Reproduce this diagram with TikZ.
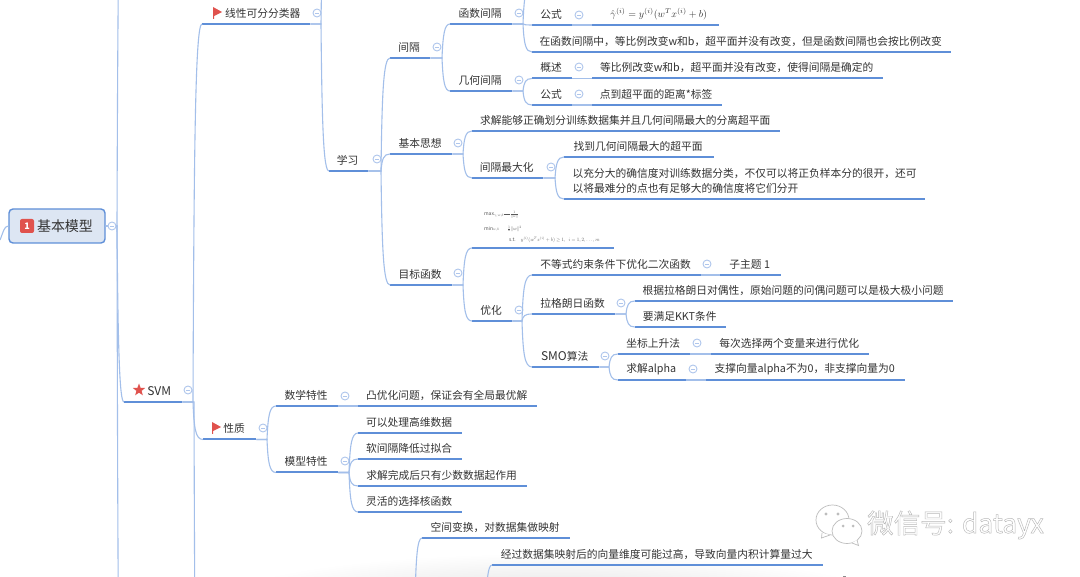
\documentclass[tikz,border=0pt]{standalone}
\usepackage{fontspec}
\setmainfont{Noto Sans CJK SC}
\usetikzlibrary{calc,shapes.geometric}
\definecolor{ulinec}{HTML}{5F8FD8}
\definecolor{connc}{HTML}{A3BFEA}
\definecolor{foldc}{HTML}{AFC6EC}
\definecolor{txtc}{HTML}{333333}
\definecolor{redc}{HTML}{E0524D}
\definecolor{rootf}{HTML}{DDE6F3}
\definecolor{wmc}{HTML}{BDBDBD}
\tikzset{
  topicbox/.style={inner sep=0pt,text=txtc,align=left,anchor=south west,font=\fontsize{10.75}{15}\selectfont},
  uline/.style={draw=ulinec,line width=2pt},
  conn/.style={draw=connc,line width=1.1pt},
  fold/.style={circle,draw=foldc,line width=0.9pt,fill=white,minimum size=8pt,inner sep=0pt,
    path picture={\draw[foldc,line width=0.9pt] ([xshift=-2.2pt]path picture bounding box.center)--([xshift=2.2pt]path picture bounding box.center);}},
  flagmark/.style={fill=redc,draw=none},
  wmline/.style={draw=wmc,line width=0.7pt,fill=white},
  tinymath/.style={inner sep=0pt,text=black!65,scale=0.5,anchor=west},
}
\newcommand\topic[6][21]{%
  \node[topicbox,minimum height=#1pt,minimum width={(#4-#3)*1pt}] (#2) at (#3,#5) {#6\kern2pt};
  \draw[uline] (#2.south west)--(#2.south east);}
\newcommand\linkit[3][9]{%
  \draw[conn] let \p1=(#2),\p2=(#3),\p3=(\x2-#1pt,\y1) in
   (\p1)--(\p3) .. controls ({\x3+1pt},{\y1+0.7*(\y2-\y1)}) and ({\x3+2.5pt},\y2) .. (\p2);}
\newcommand\conn[3][9]{\linkit[#1]{#2.south east}{#3.south west}}
\newcommand\foldat[3]{\node[fold] (#1) at (#2,#3) {};}
\begin{document}
\begin{tikzpicture}[x=1pt,y=-1pt]
\clip (0,0) rectangle (1080,577);
\fill[white] (0,0) rectangle (1080,577);
\shade[inner color=black!13,outer color=white,draw=none] (555,605) ellipse [x radius=345,y radius=52];

% root
\coordinate (rootin) at (0,240);
\coordinate (trunkup) at (126,-200);
\coordinate (trunkdown) at (126,900);
\node[rounded corners=4pt,draw=ulinec,line width=1.4pt,fill=rootf,minimum width=96pt,minimum height=34pt,inner sep=0pt] (root) at (57,226) {};
\node[rounded corners=2pt,fill=redc,minimum size=14pt,inner sep=0pt,text=white,font=\fontsize{9}{9}\selectfont\bfseries] (badge) at (27,226) {1};
\node[inner sep=0pt,text=txtc,font=\fontsize{14}{14}\selectfont] (roottext) at (65,226) {基本模型};
\draw[conn] (rootin) .. controls (3,233) and (4,226) .. (root.west);

% level 1
\topic{svm}{124}{182}{402}{\hspace*{14pt}{\fontsize{12}{15}\selectfont SVM}}
\node[star,star points=5,star point ratio=2.4,fill=redc,minimum size=13pt,inner sep=0pt] (svmstar) at (139,390) {};
\linkit[7]{root.east}{svm.south west}
\linkit[9]{root.east}{trunkup}
\linkit[9]{root.east}{trunkdown}
\foldat{froot}{112}{226}

% level 2
\topic{linear}{202}{310}{24}{\hspace*{15pt}线性可分分类器}
\topic{prop}{203}{256}{439.5}{\hspace*{11pt}性质}
\coordinate (svmdown) at (206,900);
\coordinate (linup) at (329,-90);
\conn{svm}{linear}
\conn[10]{svm}{prop}
\linkit[12]{svm.south east}{svmdown}
\foldat{fsvm}{188}{390}
\foldat{flinear}{317}{13}
\foldat{fprop}{263}{428}
\fill[flagmark] (213,7)--(222,12)--(214.2,16)--(214.2,19)--(213,19)--cycle;
\fill[flagmark] (212,422)--(221,427)--(213.2,431)--(213.2,434)--(212,434)--cycle;

% learn
\topic{learn}{329}{368}{171}{学习}
\conn[8]{linear}{learn}
\linkit[8]{linear.south east}{linup}
\foldat{flearn}{377}{159}

\topic{margin}{390}{430}{58}{间隔}
\topic{idea}{390}{452}{154}{基本思想}
\topic{objective}{390}{452}{285}{目标函数}
\linkit{learn.south east}{margin.south west}
\linkit{learn.south east}{idea.south west}
\linkit{learn.south east}{objective.south west}
\foldat{fmargin}{437}{47}
\foldat{fidea}{458}{143}
\foldat{fobjective}{458}{273}

% margin
\topic{funcm}{450}{512}{24}{函数间隔}
\topic{geom}{450}{512}{91}{几何间隔}
\conn[8]{margin}{funcm}
\conn[8]{margin}{geom}
\foldat{ffuncm}{519}{13}
\foldat{fgeom}{519}{80}
\coordinate (funcup) at (532,-14);
\topic{fformula}{532}{572}{25}{公式}
\topic{fchange}{532}{951}{52}{在函数间隔中，等比例改变w和b，超平面并没有改变，但是函数间隔也会按比例改变}
\conn{funcm}{fformula}
\conn{funcm}{fchange}
\linkit{funcm.south east}{funcup}
\foldat{fff}{579}{15}
\topic{fformulab}{592}{719}{25}{\hspace*{8pt}\raisebox{3pt}{\fontsize{10}{15}\selectfont$\hat{\gamma}^{(i)}=y^{(i)}(w^{T}x^{(i)}+b)$}}
\conn[16]{fformula}{fformulab}
\topic{gdesc}{532}{572}{78.5}{概述}
\topic{gform}{532}{572}{105}{公式}
\conn{geom}{gdesc}
\conn{geom}{gform}
\foldat{fgd}{579}{67}
\foldat{fgf}{579}{94}
\topic{gdescb}{592}{883}{78.5}{等比例改变w和b，超平面并没有改变，使得间隔是确定的}
\topic{gformb}{592}{722}{105}{点到超平面的距离*标签}
\conn[16]{gdesc}{gdescb}
\conn[16]{gform}{gformb}

% idea
\topic{solve}{472}{780}{131}{求解能够正确划分训练数据集并且几何间隔最大的分离超平面}
\topic{maxm}{472}{543}{178}{间隔最大化}
\conn{idea}{solve}
\conn{idea}{maxm}
\foldat{fmaxm}{551}{167}
\topic{findh}{564}{714}{157}{找到几何间隔最大的超平面}
\topic[36]{conf}{564}{925}{199}{以充分大的确信度对训练数据分类，不仅可以将正负样本分的很开，还可\\以将最难分的点也有足够大的确信度将它们分开}
\conn{maxm}{findh}
\conn{maxm}{conf}

% objective
\topic{objf}{472}{614}{248}{}
\topic{opt}{472}{512}{321}{优化}
\conn{objective}{objf}
\conn{objective}{opt}
\foldat{fopt}{519}{310}
\node[tinymath] (om1) at (484,215) {$\max_{\gamma,w,b}$\rule[0.5ex]{1.3em}{0.3pt}$\frac{1}{\|w\|}$};
\node[tinymath] (om2) at (484,229) {$\min_{w,b}\quad\ \ \frac{1}{2}\|w\|^{2}$};
\node[tinymath] (om3) at (509,240) {s.t.\quad $y^{(i)}(w^{T}x^{(i)}+b)\geq 1,\ \ i=1,2,\ldots,m$};

% optimisation
\topic{ineq}{532}{701}{275}{不等式约束条件下优化二次函数}
\topic{lag}{532}{615}{314}{拉格朗日函数}
\topic{smo}{532}{599}{367}{{\fontsize{12}{15}\selectfont SMO}算法}
\conn[10]{opt}{ineq}
\conn[10]{opt}{lag}
\conn[10]{opt}{smo}
\foldat{fineq}{707}{264}
\foldat{flag}{621}{303}
\foldat{fsmo}{605}{356}
\topic{sub}{720}{781}{275}{子主题 1}
\conn[17]{ineq}{sub}
\topic{dual}{635}{953}{301}{根据拉格朗日对偶性，原始问题的问偶问题可以是极大极小问题}
\topic{kkt}{635}{726}{327}{要满足KKT条件}
\conn{lag}{dual}
\conn{lag}{kkt}
\topic{coord}{618}{690}{354}{坐标上升法}
\topic{alpha}{618}{686}{380}{求解alpha}
\conn{smo}{coord}
\conn{smo}{alpha}
\foldat{fcoord}{697}{343}
\foldat{falpha}{693}{369}
\topic{each}{711}{869}{354}{每次选择两个变量来进行优化}
\topic{sv}{706}{905}{380}{支撑向量alpha不为0，非支撑向量为0}
\conn[18]{coord}{each}
\conn[18]{alpha}{sv}

% properties
\topic{math}{276}{338}{406}{数学特性}
\topic{model}{276}{338}{472.5}{模型特性}
\conn{prop}{math}
\conn{prop}{model}
\foldat{fmath}{345}{396}
\foldat{fmodel}{345}{461}
\topic{convex}{358}{537}{406}{凸优化问题，保证会有全局最优解}
\conn[18]{math}{convex}
\topic{hd}{358}{462}{433}{可以处理高维数据}
\topic{soft}{358}{462}{459}{软间隔降低过拟合}
\topic{few}{358}{527}{486}{求解完成后只有少数数据起作用}
\topic{kernel}{358}{462}{512}{灵活的选择核函数}
\conn{model}{hd}
\conn{model}{soft}
\conn{model}{few}
\conn{model}{kernel}

% bottom
\topic{space}{422}{570}{538}{空间变换，对数据集做映射}
\topic{highd}{492}{823}{565}{经过数据集映射后的向量维度可能过高，导致向量内积计算量过大}
\coordinate (spin) at (415,600);
\coordinate (hdin) at (486,600);
\draw[conn] (spin) .. controls (416,560) and (417,538) .. (space.south west);
\draw[conn] (hdin) .. controls (487,580) and (488,565) .. (highd.south west);
\fill[black!45] (842.5,576) rectangle (845.5,577);

% watermark
\draw[wmline] (832.5,520) ellipse [x radius=16.5,y radius=15];
\draw[wmline] (822,533)--(821.5,538)--(830,535);
\fill[wmc] (826,514) circle (1.6);
\fill[wmc] (838,514) circle (1.6);
\draw[wmline] (847,531) ellipse [x radius=15,y radius=12.5];
\draw[wmline] (852,543)--(858.5,545.5)--(857,540);
\fill[wmc] (843,526) circle (1.5);
\fill[wmc] (853,526) circle (1.5);
\node[inner sep=0pt,anchor=west,font=\fontsize{26.5}{26.5}\selectfont] (wm) at (867,525) {\special{pdf:code q 1 Tr 0.45 w 0.72 G}微信号: datayx\special{pdf:code Q}};
\end{tikzpicture}
\end{document}
